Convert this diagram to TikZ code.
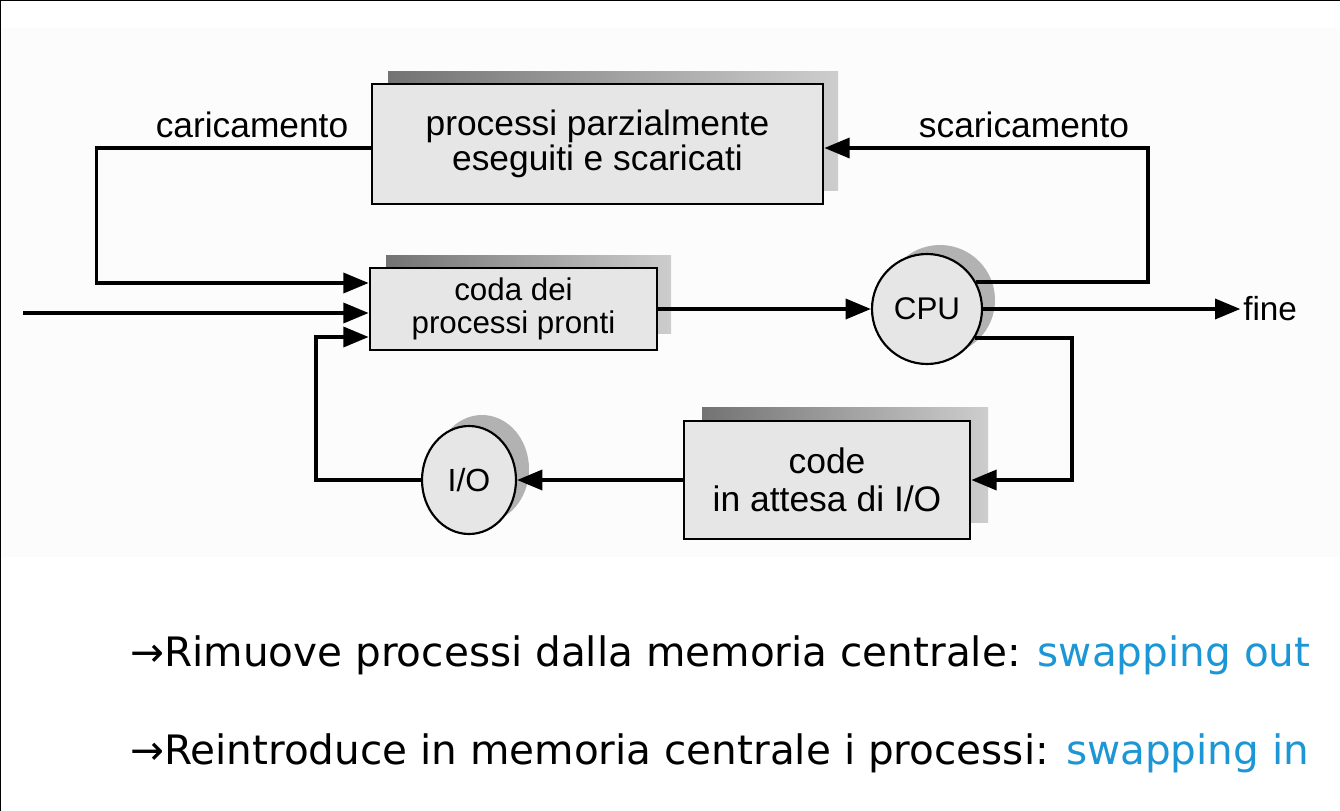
\documentclass[tikz,border=0pt]{standalone}
\usepackage{fontspec}
\setmainfont{Liberation Sans}
\newfontfamily\verd{DejaVu Sans}
\usetikzlibrary{arrows.meta,calc,shapes.geometric}
\definecolor{boxfill}{RGB}{230,230,230}
\definecolor{shdark}{RGB}{115,115,115}
\definecolor{shlight}{RGB}{205,205,205}
\definecolor{circshadow}{RGB}{178,178,178}
\definecolor{swapblue}{RGB}{28,150,212}
\definecolor{bgfaint}{RGB}{252,252,252}
\tikzset{
  qbox/.style={rectangle,draw=black,line width=2pt,fill=boxfill,inner sep=0pt,align=center},
  qcirc/.style={ellipse,draw=black,line width=1.6pt,fill=boxfill,inner sep=0pt},
  conn/.style={line width=2.7pt,-{Triangle[length=19pt,width=15pt]}},
  lbl/.style={font=\fontsize{26.5}{28}\selectfont,inner sep=0pt},
  bullet/.style={font=\verd\fontsize{30.4}{32}\selectfont,inner sep=0pt,anchor=base west}
}
\begin{document}
\begin{tikzpicture}[x=0.75pt,y=-0.75pt]
\useasboundingbox (0,0) rectangle (1340,811);
\fill[white] (0,0) rectangle (1340,811);
\fill[bgfaint] (2,28) rectangle (1340,557);
\draw[line width=2.2pt] (0,811) -- (0,0) -- (1340,0);

% shadows
\shade[left color=shdark,right color=shlight] (388,71) rectangle (838,190);
\shade[left color=shdark,right color=shlight] (386,255) rectangle (671,333);
\shade[left color=shdark,right color=shlight] (702,407) rectangle (988,522);
\fill[circshadow] (940,300) circle[radius=55];
\fill[circshadow] (482,469) ellipse[x radius=47,y radius=54];

% boxes
\node[qbox,minimum width=338.25pt,minimum height=90pt,font=\fontsize{26.5}{26.5}\selectfont] (top) at (597.5,144) {processi parzialmente\\eseguiti e scaricati};
\node[qbox,minimum width=215.25pt,minimum height=61.5pt,font=\fontsize{23.5}{24.75}\selectfont] (coda) at (513.5,309) {coda dei\\processi pronti};
\node[qbox,minimum width=214.5pt,minimum height=88.5pt,font=\fontsize{26.6}{28.5}\selectfont] (code) at (827,480) {code\\in attesa di I/O};
\node[qcirc,minimum width=82.5pt,minimum height=82.5pt,font=\fontsize{23.5}{24}\selectfont] (cpu) at (927,309) {CPU};
\node[qcirc,minimum width=70.5pt,minimum height=81pt,font=\fontsize{24}{24}\selectfont] (io) at (469,480) {I/O};

% labels
\node[lbl] (car) at (252,125) {caricamento};
\node[lbl] (scar) at (1024,125) {scaricamento};
\node[lbl,anchor=west,font=\fontsize{25}{26}\selectfont] (fine) at (1243,309) {fine};
\coordinate (src) at (23,313);

% connectors
\draw[conn] ([yshift=-3pt]top.west) -- ++(-274,0) |- ([yshift=19.5pt]coda.west);
\draw[conn] (src) -- ([yshift=-3pt]coda.west);
\draw[conn] (io.west) -- ++(-105,0) |- ([yshift=-21pt]coda.west);
\draw[conn] (coda.east) -- (cpu.west);
\draw[conn] (cpu.29.4) -- ++(172,0) |- ([yshift=-3pt]top.east);
\draw[conn] (cpu.east) -- ([xshift=-2pt]fine.west);
\draw[conn] (cpu.-31.8) -- ++(97,0) |- (code.east);
\draw[conn] (code.west) -- (io.east);

% bottom text
\node[bullet] (l1) at (130,666) {→Rimuove processi dalla memoria centrale: \textcolor{swapblue}{swapping out}};
\node[bullet] (l2) at (130,764) {→Reintroduce in memoria centrale i processi: \textcolor{swapblue}{swapping in}};
\end{tikzpicture}
\end{document}
